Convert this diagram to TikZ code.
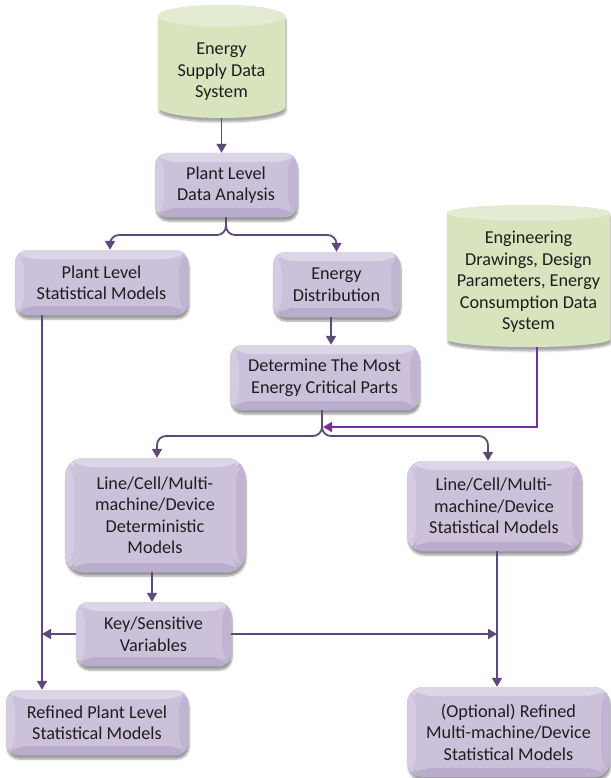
\documentclass[tikz,border=0pt]{standalone}
\usepackage{fontspec}
\setmainfont{Carlito}
\usetikzlibrary{arrows.meta,shadows.blur}

\definecolor{boxfill}{HTML}{CCC1DA}
\definecolor{bvtop}{HTML}{DCD5E8}
\definecolor{bvleft}{HTML}{D5CCE3}
\definecolor{bvright}{HTML}{C1B4D3}
\definecolor{bvbottom}{HTML}{B9ACCC}
\definecolor{cylbody}{HTML}{D7E4BD}
\definecolor{cyltop}{HTML}{E3ECD3}
\definecolor{linkpurple}{HTML}{5F497A}
\definecolor{engpurple}{HTML}{7030A0}
\definecolor{inktext}{HTML}{1E1E1E}

% cylinder: centre x, top y, bottom y, half width, end radius
\newcommand\datacyl[5]{%
  \fill[cylbody, blur shadow={shadow xshift=1pt, shadow yshift=-4pt, shadow opacity=35, shadow blur steps=6}]
    (#1-#4,#2) -- (#1-#4,#3)
    arc[start angle=180, end angle=0, x radius=#4, y radius=#5]
    -- (#1+#4,#2)
    arc[start angle=0, end angle=-180, x radius=#4, y radius=#5] -- cycle;
  \fill[cyltop] (#1,#2) ellipse [x radius=#4, y radius=#5];
}

\tikzset{
  txt/.style={font=\fontsize{18.2pt}{21.5pt}\selectfont, text=inktext, align=center, inner sep=0pt},
  procbox/.style={txt, fill=boxfill, rounded corners=#1,
    blur shadow={shadow xshift=1pt, shadow yshift=-4pt, shadow opacity=40, shadow blur steps=6},
    path picture={
      \def\bw{9pt}
      \fill[bvtop] (path picture bounding box.north west) -- (path picture bounding box.north east)
        -- ([shift={(-\bw,-\bw)}]path picture bounding box.north east)
        -- ([shift={(\bw,-\bw)}]path picture bounding box.north west) -- cycle;
      \fill[bvleft] (path picture bounding box.north west) -- (path picture bounding box.south west)
        -- ([shift={(\bw,\bw)}]path picture bounding box.south west)
        -- ([shift={(\bw,-\bw)}]path picture bounding box.north west) -- cycle;
      \fill[bvright] (path picture bounding box.north east) -- (path picture bounding box.south east)
        -- ([shift={(-\bw,\bw)}]path picture bounding box.south east)
        -- ([shift={(-\bw,-\bw)}]path picture bounding box.north east) -- cycle;
      \fill[bvbottom] (path picture bounding box.south west) -- (path picture bounding box.south east)
        -- ([shift={(-\bw,\bw)}]path picture bounding box.south east)
        -- ([shift={(\bw,\bw)}]path picture bounding box.south west) -- cycle;
    }},
  procbox/.default=12pt,
  cyltext/.style={txt},
  flow/.style={draw=linkpurple, line width=1.8pt, -{Triangle[width=10pt,length=9pt]}},
  engflow/.style={draw=engpurple, line width=1.8pt, -{Triangle[width=10pt,length=9pt]}},
}

\begin{document}
\begin{tikzpicture}[x=1pt, y=-1pt]
\useasboundingbox (0,0) rectangle (610,778);

% data stores
\datacyl{221.5}{16}{107}{63.5}{11}
\datacyl{528.5}{213}{339}{81.5}{8}
\node[cyltext, minimum width=127pt, minimum height=92pt] (cyl1) at (221.5,72)
  {Energy\\Supply Data\\System};
\node[cyltext, minimum width=163pt, minimum height=130pt] (cyl2) at (528.5,282)
  {Engineering\\Drawings, Design\\Parameters, Energy\\Consumption Data\\System};

% process boxes
\node[procbox, minimum width=142pt, minimum height=64pt] (pda) at (226,185) {Plant Level\\Data Analysis};
\node[procbox, minimum width=173pt, minimum height=65pt] (psm) at (101.5,282.5) {Plant Level\\Statistical Models};
\node[procbox, minimum width=127pt, minimum height=65pt] (edist) at (336.5,284.5) {Energy\\Distribution};
\node[procbox, minimum width=189pt, minimum height=65pt] (crit) at (324.5,377.5) {Determine The Most\\Energy Critical Parts};
\node[procbox=18pt, minimum width=180pt, minimum height=114pt] (det) at (155,515) {Line/Cell/Multi-\\machine/Device\\Deterministic\\Models};
\node[procbox=16pt, minimum width=174pt, minimum height=90pt] (stat) at (494,506) {Line/Cell/Multi-\\machine/Device\\Statistical Models};
\node[procbox, minimum width=155pt, minimum height=64pt] (key) at (153.5,634) {Key/Sensitive\\Variables};
\node[procbox, minimum width=182pt, minimum height=65pt] (rpl) at (97,722.5) {Refined Plant Level\\Statistical Models};
\node[procbox=16pt, minimum width=203pt, minimum height=90pt] (opt) at (508.5,732) {(Optional) Refined\\Multi-machine/Device\\Statistical Models};

% helper points
\coordinate (split1) at (0,235);
\coordinate (split2) at (0,436);
\coordinate (critjoin) at (323,427);
\coordinate (xpsm) at (110,0);
\coordinate (xed) at (331,0);
\coordinate (xcrit) at (322,0);
\coordinate (xdet) at (157,0);
\coordinate (xstat) at (488,0);
\coordinate (xkey) at (152,0);
\coordinate (leftbus) at (42,0);
\coordinate (rightbus) at (497,0);
\coordinate (engtap) at (537,0);

% connectors
\draw[flow] (cyl1.south) -- (cyl1.south |- pda.north);
\draw[flow, rounded corners=9pt] (pda.south) -- (pda.south |- split1) -| (psm.north -| xpsm);
\draw[flow, rounded corners=9pt] (pda.south) -- (pda.south |- split1) -| (edist.north);
\draw[flow] (edist.south -| xed) -- (crit.north -| xed);
\draw[flow, rounded corners=9pt] (crit.south -| xcrit) -- (split2 -| xcrit) -| (det.north -| xdet);
\draw[flow, rounded corners=9pt] (crit.south -| xcrit) -- (split2 -| xcrit) -| (stat.north -| xstat);
\draw[engflow] (cyl2.south -| engtap) |- (critjoin);
\draw[flow] (psm.south -| leftbus) -- (rpl.north -| leftbus);
\draw[flow] (det.south -| xkey) -- (key.north -| xkey);
\draw[flow] (key.west) -- (key.west -| leftbus);
\draw[flow] (stat.south -| rightbus) -- (opt.north -| rightbus);
\draw[flow] (key.east) -- (key.east -| rightbus);
\end{tikzpicture}
\end{document}
